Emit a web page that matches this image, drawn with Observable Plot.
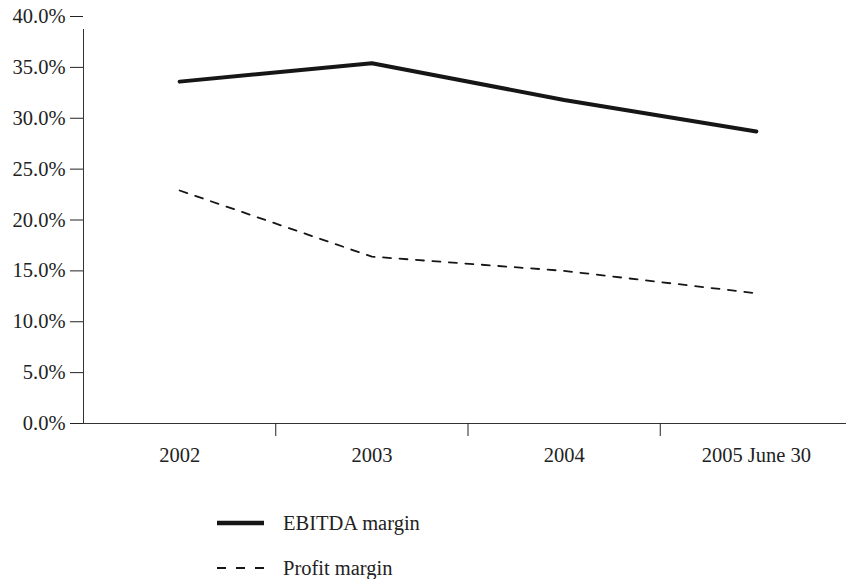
<!DOCTYPE html>
<html>
<head>
<meta charset="utf-8">
<script src="https://cdn.jsdelivr.net/npm/d3@7"></script>
<script src="https://cdn.jsdelivr.net/npm/@observablehq/plot@0.6"></script>
<style>
  body { margin: 0; background: #fff; font-family: "Liberation Serif", serif; }
  #wrap { width: 846px; position: relative; }
  #legend { position: relative; width: 846px; height: 99px; color: #222; font-size: 20.5px; }
  .row { position: absolute; left: 217px; display: flex; align-items: center; }
  .row span { margin-left: 19px; }
</style>
</head>
<body>
<div id="wrap">
  <div id="chart"></div>
  <div id="legend"></div>
</div>
<script>
const categories = ["2002", "2003", "2004", "2005 June 30"];
const ebitdaMargin = [33.6, 35.4, 31.8, 28.7];
const profitMargin = [22.9, 16.4, 15.0, 12.8];
const yTicks = [0, 5, 10, 15, 20, 25, 30, 35, 40];
const seriesNames = ["EBITDA margin", "Profit margin"];

const rows = categories.map((c, i) => ({i, c, ebitda: ebitdaMargin[i], profit: profitMargin[i]}));
const boundaries = categories.map((c, i) => i - 0.5);

const chart = Plot.plot({
  width: 846,
  height: 480,
  marginLeft: 83,
  marginRight: -6,
  marginTop: 16,
  marginBottom: 57,
  x: {type: "linear", domain: [-0.5, categories.length - 0.5]},
  y: {domain: [0, 40]},
  style: {fontFamily: "Liberation Serif, serif", fontSize: "20.5px", color: "#222", background: "white"},
  marks: [
    Plot.ruleY([0], {stroke: "#333"}),
    Plot.ruleX([-0.5], {y1: 0, y2: 40, stroke: "#333", insetBottom: -13}),
    Plot.axisY({ticks: yTicks, tickSize: 13, tickPadding: 5, tickFormat: d => d.toFixed(1) + "%", label: null}),
    Plot.axisX({ticks: boundaries.slice(1), tickSize: 13, tickFormat: () => "", label: null}),
    Plot.axisX({ticks: rows.map(d => d.i), tickSize: 0, tickPadding: 24, tickFormat: i => categories[i], label: null}),
    Plot.line(rows, {x: "i", y: "ebitda", stroke: "#161616", strokeWidth: 4}),
    Plot.line(rows, {x: "i", y: "profit", stroke: "#161616", strokeWidth: 1.8, strokeDasharray: "8,8.5"})
  ]
});
document.getElementById("chart").appendChild(chart);

const legend = document.getElementById("legend");
const styles = [{w: 4.5, dash: null, top: 43}, {w: 1.8, dash: "9,10", top: 88}];
seriesNames.forEach((name, k) => {
  const row = document.createElement("div");
  row.className = "row";
  row.style.top = (styles[k].top - 15) + "px";
  row.style.height = "30px";
  row.innerHTML = `<svg width="47" height="10"><line x1="0" x2="47" y1="5" y2="5" stroke="#161616" stroke-width="${styles[k].w}" ${styles[k].dash ? `stroke-dasharray="${styles[k].dash}"` : ""}/></svg><span>${name}</span>`;
  legend.appendChild(row);
});
</script>
</body>
</html>
